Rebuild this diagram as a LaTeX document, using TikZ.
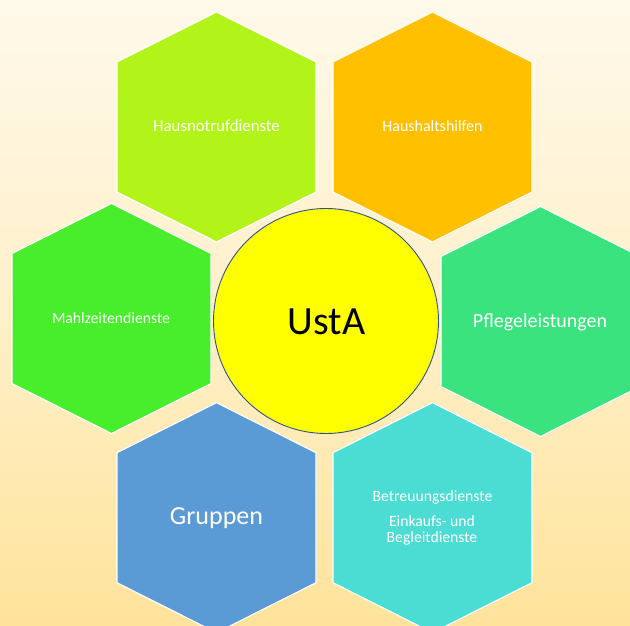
\documentclass[tikz,border=0pt]{standalone}
\usepackage{fontspec}
\setmainfont{Carlito}
\usetikzlibrary{calc}

\definecolor{bgtop}{HTML}{FFF9EA}
\definecolor{bgmid}{HTML}{FFF0C9}
\definecolor{bgbot}{HTML}{FFE39B}
\definecolor{cHausnotruf}{HTML}{B2F41A}
\definecolor{cHaushalt}{HTML}{FFC000}
\definecolor{cMahlzeit}{HTML}{48EE2B}
\definecolor{cPflege}{HTML}{3BE37E}
\definecolor{cGruppen}{HTML}{5B9BD5}
\definecolor{cBetreuung}{HTML}{4BDDD3}
\definecolor{cCore}{HTML}{FFFF00}
\definecolor{cCoreLine}{HTML}{2F528F}

% one honeycomb cell: centre, fill colour, name
\newcommand{\honeycell}[3]{%
  \coordinate (#3) at (#1);
  \path[cell, fill=#2] ($(#3)+(0,-115)$) -- ++(99.5,50) -- ++(0,130)
    -- ++(-99.5,50) -- ++(-99.5,-50) -- ++(0,-130) -- cycle;}

\begin{document}
\begin{tikzpicture}[x=1pt, y=-1pt,
  cell/.style={draw=white, line width=1.1pt, line join=miter},
  lbl/.style={text=white, font=\fontsize{15.7}{17}\selectfont, inner sep=0pt, anchor=base},
  core/.style={circle, draw=cCoreLine, line width=0.9pt, fill=cCore,
    minimum size=225pt, inner sep=0pt}]

  % page background with vertical gradient
  \useasboundingbox (0,0) rectangle (630,626);
  \shade[top color=bgtop, bottom color=bgbot, middle color=bgmid]
    (0,0) rectangle (630,626);

  % honeycomb cells
  \honeycell{216.5,127}{cHausnotruf}{hA}
  \honeycell{432.5,127}{cHaushalt}{hB}
  \honeycell{111.5,318.5}{cMahlzeit}{hC}
  \honeycell{540.5,321.5}{cPflege}{hD}
  \honeycell{216.5,517.7}{cGruppen}{hE}
  \honeycell{432.5,517.7}{cBetreuung}{hF}

  % centre circle
  \node[core] (usta) at (326,321) {};
  \node[inner sep=0pt, anchor=base, font=\fontsize{40}{44}\selectfont]
    (ustaText) at ($(usta.center)+(0.5,13.8)$) {UstA};

  % cell labels
  \node[lbl, font=\fontsize{16.8}{18}\selectfont] (tA) at ($(hA)+(0,4.8)$) {Hausnotrufdienste};
  \node[lbl, font=\fontsize{16}{17}\selectfont] (tB) at ($(hB)+(0,4.8)$) {Haushaltshilfen};
  \node[lbl] (tC) at ($(hC)+(-0.5,5)$) {Mahlzeitendienste};
  \node[lbl, font=\fontsize{20}{22}\selectfont] (tD) at ($(hD)+(-0.5,5.8)$) {Pflegeleistungen};
  \node[lbl, font=\fontsize{26}{28}\selectfont] (tE) at ($(hE)+(0,7.2)$) {Gruppen};
  \node[lbl] (tF1) at ($(hF)+(0,-15.8)$) {Betreuungsdienste};
  \node[lbl] (tF2) at ($(hF)+(-0.5,8.3)$) {Einkaufs- und};
  \node[lbl] (tF3) at ($(hF)+(-0.5,25.1)$) {Begleitdienste};
\end{tikzpicture}
\end{document}
